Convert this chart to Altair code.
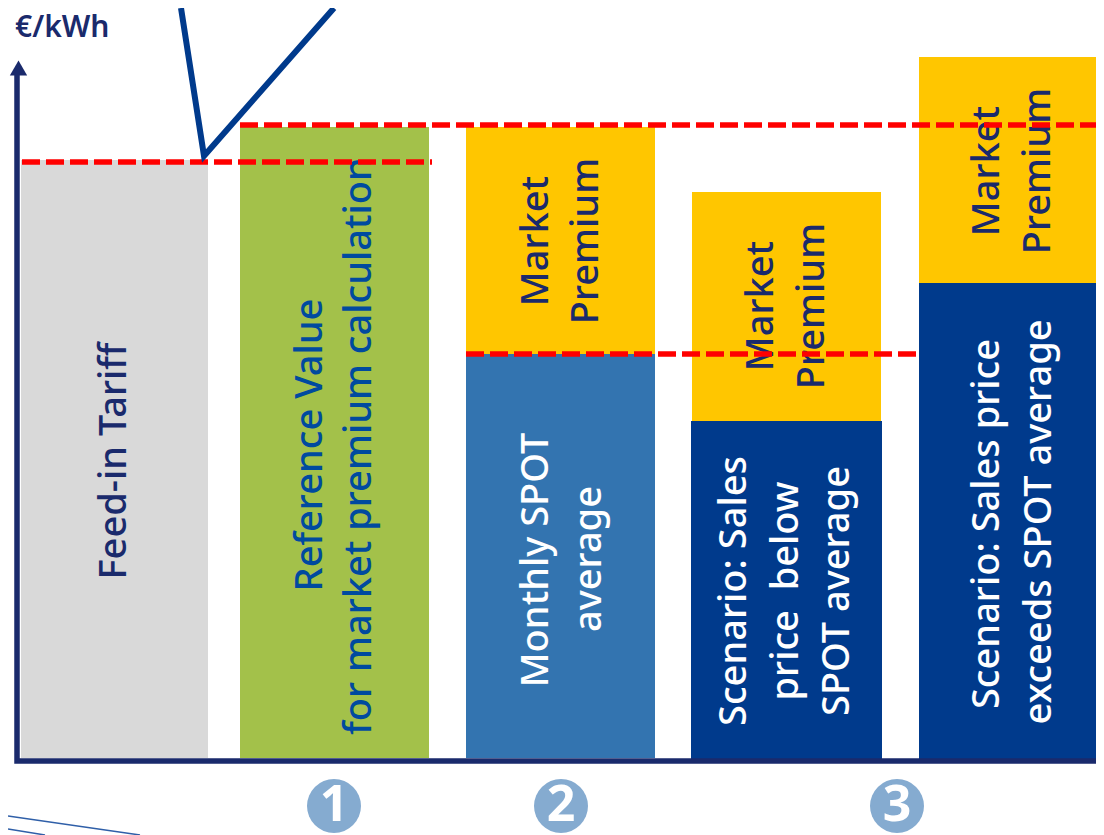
import altair as alt
import pandas as pd

# Bars, read in picture units (x grows right, level grows downward from the picture's top)
bar_x0 = [21, 240, 466, 466, 692, 691, 919, 919]
bar_x1 = [208, 429, 655, 655, 881, 882, 1096, 1096]
bar_top = [160, 127, 127, 354, 192, 421, 57, 283]
bar_bottom = [758, 758, 354, 758, 421, 760, 283, 762]
bar_color = ["#d9d9d9", "#a3c14a", "#ffc600", "#3374b0", "#ffc600", "#003a8c", "#ffc600", "#003a8c"]

# Red dashed reference levels
ref_x0 = [22, 240, 466]
ref_x1 = [432, 1096, 918]
ref_y = [162, 125, 354]

# Labels
label_text = ["Feed-in Tariff", "Reference Value", "for market premium calculation",
              "Market", "Premium", "Monthly SPOT", "average",
              "Market", "Premium", "Scenario: Sales", "price\u00a0\u00a0below", "SPOT average",
              "Market", "Premium", "Scenario: Sales price", "exceeds SPOT average"]
label_x = [115, 311, 360, 537, 587, 537, 590, 762, 813, 735, 787, 838, 988, 1039, 988, 1040]
label_y = [461, 445, 446, 241, 241, 560, 559, 306, 306, 591, 591, 591, 171, 171, 524, 522]
label_color = ["#1a2a6c", "#004a9f", "#004a9f", "#1a2a6c", "#1a2a6c", "#ffffff", "#ffffff",
               "#1a2a6c", "#1a2a6c", "#ffffff", "#ffffff", "#ffffff", "#1a2a6c", "#1a2a6c",
               "#ffffff", "#ffffff"]

# Numbered badges
badge_x = [334, 561, 897]
badge_y = [806, 806, 806]
badge_text = ["1", "2", "3"]

# Callout polyline
call_x = [181, 204, 334]
call_y = [8, 156, 8]
call_order = [0, 1, 2]

# Axes lines
axis_x = [17, 17, 1096]
axis_y = [70, 761, 761]
axis_order = [0, 1, 2]

# Thin decorative curves at the bottom-left
swoosh_x0 = [8, 8]
swoosh_y0 = [816, 829]
swoosh_x1 = [140, 45]
swoosh_y1 = [835, 835]

X = alt.Scale(domain=[8, 1096], range=[0, 1088])
Y = alt.Scale(domain=[8, 835], range=[0, 827])
x = lambda f: alt.X(f, type="quantitative", scale=X, axis=None)
y = lambda f: alt.Y(f, type="quantitative", scale=Y, axis=None)

bars = alt.Chart(pd.DataFrame(dict(x0=bar_x0, x1=bar_x1, t=bar_top, b=bar_bottom, c=bar_color))).mark_rect().encode(
    x=x("x0"), x2="x1", y=y("t"), y2="b", color=alt.Color("c:N", scale=None))

labels = alt.Chart(pd.DataFrame(dict(x=label_x, y=label_y, t=label_text, c=label_color))).mark_text(
    angle=270, font="Noto Sans", fontSize=38, fontWeight=500, align="center", baseline="middle").encode(
    x=x("x"), y=y("y"), text="t:N", color=alt.Color("c:N", scale=None))

refs = alt.Chart(pd.DataFrame(dict(x0=ref_x0, x1=ref_x1, y=ref_y))).mark_rule(
    color="#ff0000", strokeWidth=5.5, strokeDash=[18, 6]).encode(x=x("x0"), x2="x1", y=y("y"))

call = alt.Chart(pd.DataFrame(dict(x=call_x, y=call_y, o=call_order))).mark_line(
    color="#003a8c", strokeWidth=6, strokeJoin="miter").encode(x=x("x"), y=y("y"), order="o:Q")

axes = alt.Chart(pd.DataFrame(dict(x=axis_x, y=axis_y, o=axis_order))).mark_line(
    color="#1a2a6c", strokeWidth=5.5, strokeJoin="miter").encode(x=x("x"), y=y("y"), order="o:Q")

arrow = alt.Chart(pd.DataFrame(dict(x=[18.5], y=[68]))).mark_point(
    shape="triangle-up", filled=True, size=300, opacity=1, color="#1a2a6c").encode(x=x("x"), y=y("y"))

unit = alt.Chart(pd.DataFrame(dict(x=[15], y=[37], t=["€/kWh"]))).mark_text(
    font="Noto Sans", fontSize=30, fontWeight=600, color="#1a2a6c", align="left", baseline="alphabetic").encode(
    x=x("x"), y=y("y"), text="t:N")

badges = alt.Chart(pd.DataFrame(dict(x=badge_x, y=badge_y))).mark_point(
    shape="circle", filled=True, size=2916, opacity=1, color="#85abd0").encode(x=x("x"), y=y("y"))

badge_labels = alt.Chart(pd.DataFrame(dict(x=badge_x, y=badge_y, t=badge_text))).mark_text(
    font="Noto Sans", fontSize=50, fontWeight="bold", color="#ffffff", align="center", baseline="middle").encode(
    x=x("x"), y=y("y"), text="t:N")

swoosh = alt.Chart(pd.DataFrame(dict(x0=swoosh_x0, y0=swoosh_y0, x1=swoosh_x1, y1=swoosh_y1))).mark_rule(
    color="#2f5fa8", strokeWidth=1.5).encode(x=x("x0"), x2="x1", y=y("y0"), y2="y1")

chart = alt.layer(bars, axes, arrow, labels, refs, call, unit, badges, badge_labels, swoosh).properties(
    width=1088, height=827, padding=0, autosize=alt.AutoSizeParams(type="none")
).configure_view(stroke=None)

chart.save("out.html", embed_options={"renderer": "svg", "actions": False})
